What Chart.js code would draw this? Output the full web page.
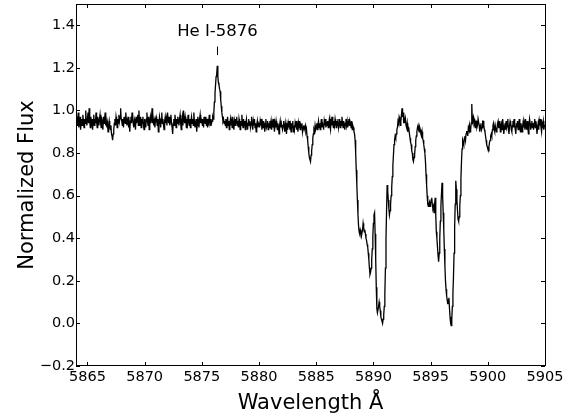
<!DOCTYPE html>
<html>
<head>
<meta charset="utf-8">
<script src="https://cdn.jsdelivr.net/npm/chart.js@4"></script>
<style>
  html, body { margin: 0; padding: 0; background: #fff; }
  #chartSpectrum { display: block; }
</style>
</head>
<body>
<canvas id="chartSpectrum" width="580" height="416"></canvas>
<script>
// spectrum sampled every 0.05 A starting at 5864.00 A (20 samples per row)
let waveStart = 5864.0;
let waveStep = 0.05;

let flux = [
    0.94, 0.97, 0.93, 0.96, 0.99, 0.92, 0.95, 0.97, 0.91, 0.94, 0.96, 0.93, 0.98, 0.95, 0.92, 0.96, 0.94, 1.00, 0.95, 0.93, // 5864
    0.96, 0.99, 0.94, 1.01, 0.95, 0.92, 0.97, 0.94, 0.96, 0.91, 0.95, 0.98, 0.93, 0.96, 0.94, 0.99, 0.95, 0.92, 0.97, 0.95, // 5865
    0.93, 0.96, 0.98, 0.94, 0.92, 0.96, 0.95, 0.91, 0.97, 0.94, 0.96, 0.99, 0.93, 0.95, 0.92, 0.94, 0.90, 0.93, 0.95, 0.92, // 5866
    0.91, 0.93, 0.89, 0.88, 0.86, 0.89, 0.91, 0.94, 0.96, 0.93, 0.97, 0.95, 0.92, 0.96, 0.94, 0.98, 0.95, 0.97, 1.01, 0.96, // 5867
    0.95, 0.93, 0.96, 0.92, 0.97, 0.95, 0.94, 0.99, 0.96, 0.93, 0.95, 0.97, 0.92, 0.94, 0.90, 0.95, 0.97, 0.94, 0.99, 0.96, // 5868
    0.94, 0.92, 0.96, 0.95, 0.91, 0.97, 0.94, 0.96, 0.98, 0.93, 1.00, 0.95, 0.93, 0.97, 0.92, 0.96, 0.94, 0.97, 0.93, 0.91, // 5869
    0.96, 0.94, 0.92, 0.96, 0.99, 0.95, 0.93, 0.97, 0.91, 0.95, 0.97, 0.94, 0.96, 1.01, 0.94, 0.96, 0.93, 0.95, 0.92, 0.96, // 5870
    0.97, 0.95, 0.93, 0.96, 0.90, 0.94, 0.97, 0.95, 0.92, 0.96, 0.99, 0.94, 0.96, 0.93, 0.91, 0.95, 0.97, 0.94, 0.96, 0.93, // 5871
    0.99, 0.96, 0.94, 0.97, 0.93, 0.95, 0.98, 0.94, 0.92, 0.89, 0.94, 0.96, 0.93, 0.98, 0.95, 0.92, 0.96, 0.94, 0.97, 0.95, // 5872
    0.93, 0.96, 0.98, 0.94, 0.91, 0.95, 0.97, 0.93, 1.00, 0.96, 0.94, 0.97, 0.95, 0.92, 0.96, 0.94, 0.98, 0.95, 0.93, 0.96, // 5873
    0.92, 0.95, 0.97, 0.94, 0.96, 0.93, 0.99, 0.95, 0.92, 0.94, 0.96, 0.90, 0.93, 0.97, 0.95, 0.92, 0.96, 0.98, 0.94, 0.96, // 5874
    0.95, 0.93, 0.96, 0.92, 0.97, 0.95, 0.94, 0.97, 0.93, 0.96, 0.92, 0.95, 0.94, 0.98, 0.95, 0.93, 0.96, 0.94, 0.95, 0.97, // 5875
    0.96, 0.99, 1.04, 1.08, 1.12, 1.16, 1.17, 1.21, 1.16, 1.13, 1.12, 1.10, 1.09, 1.05, 1.02, 0.99, 0.97, 0.95, 0.96, 0.94, // 5876
    0.95, 0.93, 0.96, 0.92, 0.94, 0.97, 0.93, 0.95, 0.91, 0.94, 0.96, 0.93, 0.95, 0.92, 0.97, 0.94, 0.91, 0.95, 0.93, 0.96, // 5877
    0.94, 0.97, 0.93, 0.95, 0.92, 0.96, 0.94, 0.91, 0.95, 0.93, 0.98, 0.94, 0.92, 0.96, 0.93, 0.95, 0.91, 0.94, 0.96, 0.93, // 5878
    0.91, 0.94, 0.96, 0.93, 0.95, 0.92, 0.94, 0.97, 0.93, 0.91, 0.95, 0.93, 0.96, 0.92, 0.94, 0.90, 0.93, 0.95, 0.92, 0.94, // 5879
    0.94, 0.92, 0.95, 0.93, 0.96, 0.91, 0.94, 0.92, 0.95, 0.93, 0.90, 0.94, 0.96, 0.92, 0.93, 0.95, 0.91, 0.94, 0.92, 0.95, // 5880
    0.93, 0.95, 0.91, 0.94, 0.92, 0.96, 0.93, 0.90, 0.94, 0.92, 0.95, 0.93, 0.91, 0.94, 0.92, 0.89, 0.93, 0.95, 0.92, 0.94, // 5881
    0.94, 0.91, 0.93, 0.95, 0.92, 0.90, 0.94, 0.92, 0.89, 0.93, 0.91, 0.94, 0.92, 0.95, 0.91, 0.93, 0.90, 0.94, 0.92, 0.95, // 5882
    0.90, 0.93, 0.91, 0.94, 0.92, 0.95, 0.91, 0.93, 0.90, 0.94, 0.92, 0.95, 0.91, 0.93, 0.92, 0.94, 0.90, 0.92, 0.93, 0.91, // 5883
    0.91, 0.93, 0.90, 0.91, 0.88, 0.86, 0.83, 0.80, 0.78, 0.77, 0.76, 0.79, 0.81, 0.84, 0.87, 0.89, 0.91, 0.90, 0.93, 0.91, // 5884
    0.92, 0.94, 0.91, 0.93, 0.95, 0.92, 0.94, 0.91, 0.93, 0.96, 0.92, 0.94, 0.93, 0.91, 0.95, 0.93, 0.96, 0.92, 0.94, 0.93, // 5885
    0.95, 0.92, 0.94, 0.96, 0.93, 0.91, 0.95, 0.93, 0.97, 0.94, 0.92, 0.95, 0.93, 0.96, 0.94, 0.92, 0.95, 0.93, 0.96, 0.92, // 5886
    0.94, 0.96, 0.92, 0.95, 0.93, 0.97, 0.94, 0.92, 0.95, 0.93, 0.91, 0.94, 0.96, 0.93, 0.95, 0.92, 0.94, 0.96, 0.93, 0.95, // 5887
    0.94, 0.92, 0.95, 0.91, 0.93, 0.92, 0.90, 0.89, 0.86, 0.80, 0.72, 0.65, 0.58, 0.51, 0.46, 0.43, 0.42, 0.44, 0.43, 0.41, // 5888
    0.41, 0.44, 0.47, 0.45, 0.43, 0.44, 0.42, 0.40, 0.39, 0.37, 0.36, 0.33, 0.30, 0.26, 0.23, 0.24, 0.26, 0.30, 0.35, 0.41, // 5889
    0.47, 0.51, 0.52, 0.42, 0.30, 0.17, 0.07, 0.05, 0.05, 0.08, 0.10, 0.08, 0.06, 0.03, 0.02, 0.01, 0.00, 0.02, 0.04, 0.08, // 5890
    0.14, 0.26, 0.40, 0.53, 0.65, 0.62, 0.58, 0.54, 0.51, 0.53, 0.56, 0.60, 0.64, 0.69, 0.74, 0.79, 0.84, 0.86, 0.88, 0.87, // 5891
    0.89, 0.91, 0.92, 0.95, 0.94, 0.97, 0.96, 0.93, 0.95, 0.98, 1.01, 0.97, 0.99, 0.94, 0.96, 0.94, 0.96, 0.93, 0.92, 0.94, // 5892
    0.90, 0.92, 0.91, 0.89, 0.87, 0.85, 0.84, 0.81, 0.80, 0.77, 0.76, 0.78, 0.79, 0.83, 0.86, 0.88, 0.90, 0.92, 0.93, 0.91, // 5893
    0.90, 0.92, 0.91, 0.89, 0.88, 0.90, 0.87, 0.86, 0.84, 0.82, 0.80, 0.76, 0.70, 0.65, 0.60, 0.56, 0.55, 0.56, 0.57, 0.55, // 5894
    0.56, 0.58, 0.59, 0.56, 0.54, 0.55, 0.52, 0.56, 0.59, 0.51, 0.43, 0.40, 0.36, 0.32, 0.29, 0.33, 0.40, 0.48, 0.55, 0.61, // 5895
    0.66, 0.60, 0.52, 0.44, 0.35, 0.27, 0.20, 0.16, 0.13, 0.11, 0.09, 0.11, 0.12, 0.07, 0.03, 0.00, -0.01, 0.02, 0.08, 0.14, // 5896
    0.22, 0.33, 0.45, 0.56, 0.67, 0.63, 0.58, 0.53, 0.49, 0.48, 0.50, 0.55, 0.60, 0.68, 0.76, 0.82, 0.86, 0.85, 0.84, 0.87, // 5897
    0.88, 0.86, 0.89, 0.90, 0.90, 0.88, 0.92, 0.91, 0.93, 0.90, 0.91, 0.94, 1.03, 0.95, 0.94, 0.97, 0.96, 0.93, 0.92, 0.95, // 5898
    0.95, 0.92, 0.93, 0.96, 0.96, 0.93, 0.90, 0.93, 0.94, 0.91, 0.92, 0.95, 0.95, 0.93, 0.91, 0.90, 0.88, 0.86, 0.84, 0.83, // 5899
    0.82, 0.81, 0.83, 0.85, 0.86, 0.88, 0.89, 0.88, 0.91, 0.93, 0.94, 0.91, 0.90, 0.93, 0.93, 0.90, 0.91, 0.94, 0.95, 0.92, // 5900
    0.92, 0.95, 0.90, 0.93, 0.94, 0.91, 0.96, 0.93, 0.89, 0.92, 0.94, 0.91, 0.95, 0.92, 0.93, 0.96, 0.91, 0.89, 0.93, 0.95, // 5901
    0.94, 0.91, 0.90, 0.93, 0.95, 0.92, 0.96, 0.93, 0.91, 0.89, 0.94, 0.92, 0.95, 0.91, 0.93, 0.96, 0.92, 0.90, 0.94, 0.92, // 5902
    0.90, 0.93, 0.95, 0.92, 0.94, 0.91, 0.96, 0.93, 0.91, 0.95, 0.92, 0.89, 0.93, 0.96, 0.94, 0.91, 0.93, 0.95, 0.92, 0.94, // 5903
    0.91, 0.94, 0.96, 0.92, 0.95, 0.93, 0.89, 0.92, 0.94, 0.91, 0.95, 0.93, 0.96, 0.92, 0.90, 0.94, 0.93, 0.95, 0.91, 0.93, // 5904
    0.93                                                                                                                       // 5905
];

let xTicks = [5865, 5870, 5875, 5880, 5885, 5890, 5895, 5900, 5905];
let yTicks = [-0.2, 0.0, 0.2, 0.4, 0.6, 0.8, 1.0, 1.2, 1.4];

// line identification mark
let lineLabel = 'He I-5876';
let lineWave = 5876.3;
let lineLabelFlux = 1.37;
let lineMarkTop = 1.30;
let lineMarkBottom = 1.26;

let points = flux.map((f, i) => ({ x: +(waveStart + i * waveStep).toFixed(2), y: f }));

let fontFamily = "'DejaVu Sans', sans-serif";

// matplotlib-like frame: box around the plot with ticks pointing inward on all sides
let frameTicks = {
    id: 'frameTicks',
    afterDatasetsDraw(chart) {
        let ctx = chart.ctx;
        let area = chart.chartArea;
        let x = chart.scales.x;
        let y = chart.scales.y;
        let len = 4;

        ctx.save();
        ctx.strokeStyle = '#000';
        ctx.lineWidth = 1;
        ctx.beginPath();
        xTicks.forEach(v => {
            let px = Math.round(x.getPixelForValue(v)) + 0.5;
            ctx.moveTo(px, area.bottom);
            ctx.lineTo(px, area.bottom - len);
            ctx.moveTo(px, area.top);
            ctx.lineTo(px, area.top + len);
        });
        yTicks.forEach(v => {
            let py = Math.round(y.getPixelForValue(v)) + 0.5;
            ctx.moveTo(area.left, py);
            ctx.lineTo(area.left + len, py);
            ctx.moveTo(area.right, py);
            ctx.lineTo(area.right - len, py);
        });
        ctx.stroke();
        ctx.strokeRect(area.left + 0.5, area.top + 0.5, area.width, area.height - 1);

        // He I label with its short marker
        let lx = Math.round(x.getPixelForValue(lineWave)) + 0.5;
        ctx.beginPath();
        ctx.moveTo(lx, y.getPixelForValue(lineMarkTop));
        ctx.lineTo(lx, y.getPixelForValue(lineMarkBottom));
        ctx.stroke();
        ctx.fillStyle = '#000';
        ctx.font = '16.5px ' + fontFamily;
        ctx.textAlign = 'center';
        ctx.textBaseline = 'middle';
        ctx.fillText(lineLabel, lx, y.getPixelForValue(lineLabelFlux));
        ctx.restore();
    }
};

let contextSpectrum = document.querySelector('#chartSpectrum').getContext('2d');

let config = {
    type: 'line',
    data: {
        datasets: [{
            label: 'Flux',
            data: points,
            borderColor: '#000',
            borderWidth: 1.3,
            pointRadius: 0,
            tension: 0,
            fill: false
        }]
    },
    options: {
        responsive: false,
        animation: false,
        layout: {
            padding: { top: 4, right: 35, left: 0, bottom: 0 }
        },
        plugins: {
            legend: { display: false },
            tooltip: { enabled: false }
        },
        scales: {
            x: {
                type: 'linear',
                min: 5864,
                max: 5905,
                afterBuildTicks: s => { s.ticks = xTicks.map(v => ({ value: v })); },
                afterFit: s => {
                    s.height = 50;
                    s.paddingLeft = 0;
                    s.paddingRight = 0;
                },
                grid: { display: false, drawTicks: false },
                border: { display: false },
                ticks: {
                    color: '#000',
                    font: { family: fontFamily, size: 14.5 },
                    padding: 3,
                    maxRotation: 0,
                    autoSkip: false,
                    callback: v => String(v)
                },
                title: {
                    display: true,
                    text: 'Wavelength Å',
                    color: '#000',
                    font: { family: fontFamily, size: 21 },
                    padding: { top: 1, bottom: 0 }
                }
            },
            y: {
                type: 'linear',
                min: -0.2,
                max: 1.5,
                afterBuildTicks: s => { s.ticks = yTicks.map(v => ({ value: v })); },
                afterFit: s => {
                    s.width = 76;
                    s.paddingTop = 0;
                    s.paddingBottom = 0;
                },
                grid: { display: false, drawTicks: false },
                border: { display: false },
                ticks: {
                    color: '#000',
                    font: { family: fontFamily, size: 14.5 },
                    padding: 1,
                    autoSkip: false,
                    callback: v => v.toFixed(1).replace('-', '\u2212')
                },
                title: {
                    display: true,
                    text: 'Normalized Flux',
                    color: '#000',
                    font: { family: fontFamily, size: 21 },
                    padding: { top: 15, bottom: 0 }
                }
            }
        }
    },
    plugins: [frameTicks]
};

let chartSpectrum = new Chart(contextSpectrum, config);
</script>
</body>
</html>
